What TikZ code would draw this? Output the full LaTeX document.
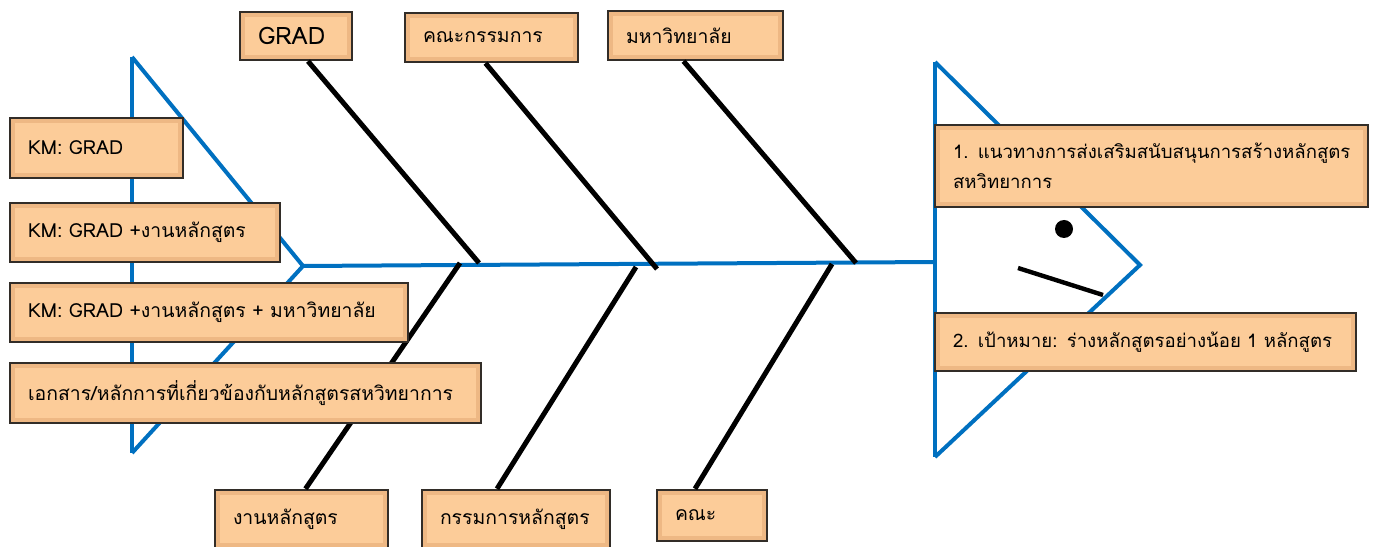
\documentclass[tikz,border=0pt]{standalone}
\usepackage{fontspec}
\setmainfont[Script=Thai,WordSpace=0.8]{Loma}
\usepackage{tikz}
\usetikzlibrary{positioning,calc}
\definecolor{fishblue}{RGB}{0,112,192}
\definecolor{boxface}{RGB}{252,204,153}
\definecolor{boxedge}{RGB}{238,184,132}
\definecolor{boxline}{RGB}{50,45,40}
\tikzstyle{fishline}=[fishblue,line width=2pt]
\tikzstyle{bone}=[black,line width=2.5pt]
\tikzstyle{fishbox}=[draw=boxline,line width=1.2pt,fill=boxedge,inner xsep=9pt,inner ysep=2pt,align=left,
  font=\fontsize{9.7}{15}\selectfont,
  path picture={\fill[boxface] ([shift={(2.5pt,2.5pt)}]path picture bounding box.south west) rectangle ([shift={(-2.5pt,-2.5pt)}]path picture bounding box.north east);}]

\begin{document}
\begin{tikzpicture}[x=0.5pt,y=0.5pt]
  \useasboundingbox (0,0) rectangle (1374,546);

  % tail
  \draw[fishline,line join=miter] (132,489) -- (132,93);
  \draw[fishline] (132,489) -- (303,280) -- (132,93);

  % spine
  \draw[fishline] (303,280) -- (935,284);

  % head
  \draw[fishline] (935,484) -- (935,89);
  \draw[fishline] (935,484) -- (1140,281) -- (935,89);
  \fill (1064,317) circle (9);
  \draw[black,line width=2.2pt] (1018,278) -- (1103,251);

  % bone ends on the spine
  \coordinate (t1) at (479,283);
  \coordinate (t2) at (657,277);
  \coordinate (t3) at (856,283);
  \coordinate (b1) at (460,283);
  \coordinate (b2) at (636,279);
  \coordinate (b3) at (832,282);

  % top causes
  \node[fishbox,text width=38pt,minimum height=24pt,font=\fontsize{12}{15}\selectfont] (grad) at (296,510) {\mbox{GRAD}};
  \node[fishbox,text width=68.5pt,minimum height=24.5pt] (board) at (491.5,508.5) {\mbox{คณะกรรมการ}};
  \node[fishbox,text width=69.5pt,minimum height=24.5pt] (univ) at (695.5,510.5) {\mbox{มหาวิทยาลัย}};

  % bottom causes
  \node[fishbox,text width=68.5pt,minimum height=29pt] (course) at (301.5,27) {\mbox{งานหลักสูตร}};
  \node[fishbox,text width=76pt,minimum height=29pt] (coursecom) at (516,27) {\mbox{กรรมการหลักสูตร}};
  \node[fishbox,text width=37pt,minimum height=25.5pt] (faculty) at (712,30.5) {\mbox{คณะ}};

  % bones
  \draw[bone] ([xshift=6pt]grad.south) -- (t1);
  \draw[bone] ([xshift=-3pt]board.south) -- (t2);
  \draw[bone] ([xshift=-6pt]univ.south) -- (t3);
  \draw[bone] (b1) -- ([xshift=2pt]course.north);
  \draw[bone] (b2) -- ([xshift=-9.5pt]coursecom.north);
  \draw[bone] (b3) -- ([xshift=-8.5pt]faculty.north);

  % tail boxes
  \node[fishbox,text width=68.5pt,minimum height=30pt] (km1) at (96.5,398) {\mbox{KM: GRAD}};
  \node[fishbox,text width=117pt,minimum height=29.5pt] (km2) at (145,313.5) {\mbox{KM: GRAD +งานหลักสูตร}};
  \node[fishbox,text width=181pt,minimum height=29.5pt] (km3) at (209,233.5) {\mbox{KM: GRAD +งานหลักสูตร + มหาวิทยาลัย}};
  \node[fishbox,text width=217.5pt,minimum height=30pt] (docs) at (245.5,153) {\mbox{เอกสาร/หลักการที่เกี่ยวข้องกับหลักสูตรสหวิทยาการ}};

  % head boxes
  \node[fishbox,text width=198.5pt,minimum height=41pt,font=\fontsize{9.3}{15}\selectfont] (goal1) at (1151.5,380) {\mbox{1. แนวทางการส่งเสริมสนับสนุนการสร้างหลักสูตร}\\\mbox{สหวิทยาการ}};
  \node[fishbox,text width=192.5pt,minimum height=29pt,font=\fontsize{9.3}{15}\selectfont] (goal2) at (1145.5,204) {\mbox{2. เป้าหมาย: ร่างหลักสูตรอย่างน้อย 1 หลักสูตร}};

\end{tikzpicture}
\end{document}
